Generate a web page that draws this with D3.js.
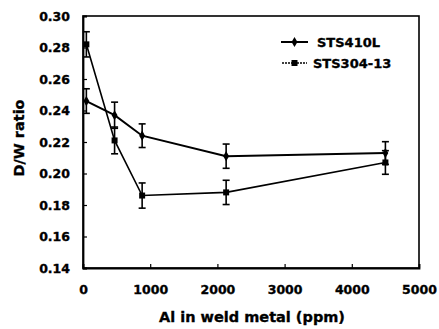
<!DOCTYPE html>
<html>
<head>
<meta charset="utf-8">
<script src="https://cdn.jsdelivr.net/npm/d3@7"></script>
<style>
  html, body { margin: 0; padding: 0; background: #fff; }
  svg text { font-family: "DejaVu Sans", sans-serif; font-weight: bold; fill: #000; stroke: #000; stroke-width: 0.35px; }
</style>
</head>
<body>
<div id="chart"></div>
<script>
// Al content (ppm) and D/W ratio
const al410 = [50, 470, 880, 2130, 4500];
const dw410 = [0.246, 0.237, 0.224, 0.211, 0.213];
const err410 = [0.0078, 0.0083, 0.0075, 0.0077, 0.0072];

const al304 = [50, 470, 880, 2130, 4500];
const dw304 = [0.282, 0.221, 0.186, 0.188, 0.207];
const err304 = [0.008, 0.0085, 0.008, 0.0077, 0.0075];

const xTicks = [0, 1000, 2000, 3000, 4000, 5000];
const yTicks = [0.14, 0.16, 0.18, 0.20, 0.22, 0.24, 0.26, 0.28, 0.30];
const seriesNames = ['STS410L', 'STS304-13'];

const W = 439, H = 329;
const M = { top: 16, right: 20, bottom: 61, left: 83 };

const svg = d3.select('#chart').append('svg').attr('width', W).attr('height', H);

const x = d3.scaleLinear().domain([0, 5000]).range([M.left, W - M.right]);
const y = d3.scaleLinear().domain([0.14, 0.30]).range([H - M.bottom, M.top]);

// frame
svg.append('rect')
  .attr('x', x(0)).attr('y', y(0.30))
  .attr('width', x(5000) - x(0)).attr('height', y(0.14) - y(0.30))
  .attr('fill', 'none').attr('stroke', '#000').attr('stroke-width', 1.6);

// axes, ticks pointing inward
const xAxis = svg.append('g')
  .attr('transform', `translate(0,${y(0.14)})`)
  .call(d3.axisBottom(x).tickValues(xTicks).tickSize(-4).tickPadding(17).tickFormat(d3.format('d')));
const yAxis = svg.append('g')
  .attr('transform', `translate(${x(0)},0)`)
  .call(d3.axisLeft(y).tickValues(yTicks).tickSize(-4).tickPadding(13).tickFormat(d3.format('.2f')));

[xAxis, yAxis].forEach(a => {
  a.select('.domain').attr('stroke-width', 1.8);
  a.selectAll('.tick line').attr('stroke-width', 1.2);
  a.selectAll('text').attr('font-size', '12.5px').style('font-family', '"DejaVu Sans", sans-serif')
    .style('font-weight', 'bold');
});

// axis titles
svg.append('text')
  .attr('x', 252).attr('y', 322)
  .attr('text-anchor', 'middle').attr('font-size', '14.5px')
  .text('Al in weld metal (ppm)');
svg.append('text')
  .attr('transform', 'translate(24,138) rotate(-90)')
  .attr('text-anchor', 'middle').attr('font-size', '14.5px')
  .text('D/W ratio');

const line = d3.line().x(d => x(d[0])).y(d => y(d[1]));

function drawSeries(al, dw, err, lw, marker) {
  const pts = al.map((a, i) => [a, dw[i], err[i]]);
  const g = svg.append('g');
  g.append('path').datum(pts)
    .attr('d', line).attr('fill', 'none').attr('stroke', '#000').attr('stroke-width', lw);

  // error bars
  const eb = g.selectAll('.eb').data(pts).join('g').attr('class', 'eb');
  eb.append('line')
    .attr('x1', d => x(d[0])).attr('x2', d => x(d[0]))
    .attr('y1', d => y(d[1] + d[2])).attr('y2', d => y(d[1] - d[2]))
    .attr('stroke', '#000').attr('stroke-width', 1.6);
  [1, -1].forEach(s => {
    eb.append('line')
      .attr('x1', d => x(d[0]) - 3.5).attr('x2', d => x(d[0]) + 3.5)
      .attr('y1', d => y(d[1] + s * d[2])).attr('y2', d => y(d[1] + s * d[2]))
      .attr('stroke', '#000').attr('stroke-width', 1.6);
  });

  g.selectAll('.mk').data(pts).join('path').attr('class', 'mk')
    .attr('d', marker)
    .attr('transform', d => `translate(${x(d[0])},${y(d[1])})`)
    .attr('fill', '#000');
}

const diamond = d3.symbol(d3.symbolDiamond, 30)();
const square = d3.symbol(d3.symbolSquare, 36)();

drawSeries(al410, dw410, err410, 2, diamond);
drawSeries(al304, dw304, err304, 1.6, square);

// legend
const legend = svg.append('g');
const legendRows = [
  { name: seriesNames[0], y: 42, x0: 281, x1: 308, tx: 317, marker: diamond, dash: null, lw: 2 },
  { name: seriesNames[1], y: 63, x0: 282, x1: 307, tx: 313, marker: square, dash: '2,1', lw: 1.4 },
];
legendRows.forEach(r => {
  legend.append('line')
    .attr('x1', r.x0).attr('x2', r.x1).attr('y1', r.y).attr('y2', r.y)
    .attr('stroke', '#000').attr('stroke-width', r.lw)
    .attr('stroke-dasharray', r.dash);
  legend.append('path').attr('d', r.marker)
    .attr('transform', `translate(${(r.x0 + r.x1) / 2},${r.y})`).attr('fill', '#000');
  legend.append('text')
    .attr('x', r.tx).attr('y', r.y + 4.5)
    .attr('font-size', '13px')
    .text(r.name);
});
</script>
</body>
</html>
